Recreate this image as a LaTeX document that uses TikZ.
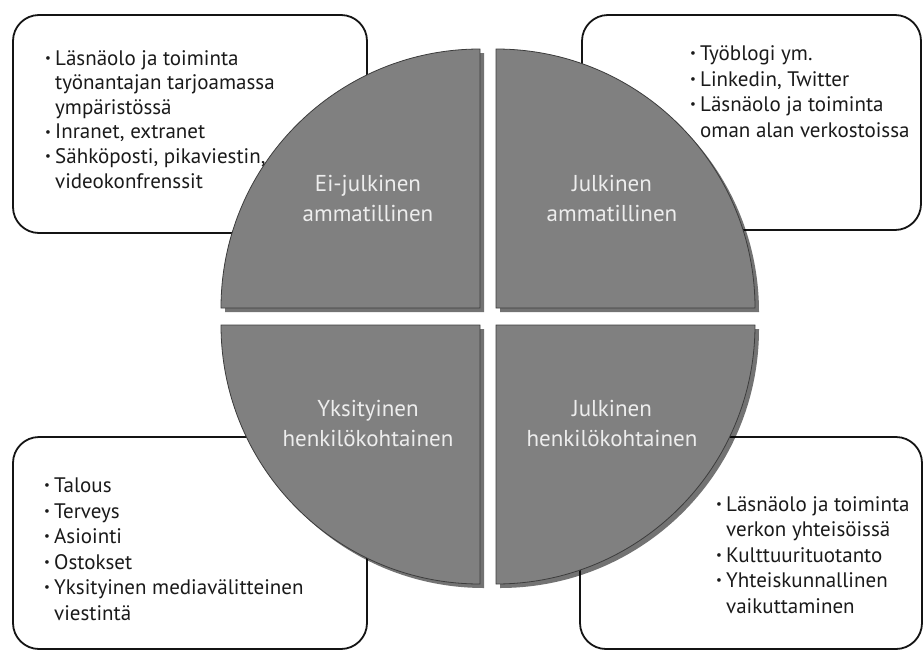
\documentclass[tikz,border=0pt]{standalone}
\usepackage{fontspec}
\setmainfont{PT Sans}
\usetikzlibrary{shadows}
\definecolor{qgray}{HTML}{808080}
\definecolor{qedge}{HTML}{3C3C3C}
\definecolor{qtext}{HTML}{EDEDED}
\definecolor{btext}{HTML}{1A1A1A}
\newcommand{\smallbul}{\makebox[11pt][l]{\hspace{1pt}\raisebox{2.6pt}{\fontsize{13}{13}\selectfont •}}}
\newcommand{\bitem}[1]{\smallbul#1}
\newcommand{\bcont}[1]{\hspace*{11pt}#1}
\begin{document}
\begin{tikzpicture}[x=1pt,y=1pt,
  infobox/.style={draw=black!92, line width=1.8pt, rounded corners=26pt, fill=white},
  quad/.style={fill=qgray, draw=qedge, line width=0.8pt,
    drop shadow={shadow xshift=4pt, shadow yshift=-4pt, fill=black, opacity=0.55}},
  qlabel/.style={text=qtext, font=\fontsize{23}{29.5}\selectfont, align=center, inner sep=0pt, anchor=base},
  blist/.style={text=btext, font=\fontsize{21}{25.5}\selectfont, align=left, inner sep=0pt, anchor=base west}]
\useasboundingbox (0,0) rectangle (924,-651);
% information boxes
\draw[infobox] (13,-15) rectangle (367,-233);
\draw[infobox] (582,-15) rectangle (921,-230);
\draw[infobox] (13,-437) rectangle (367,-649);
\draw[infobox] (580,-437) rectangle (922,-649);
% quadrants
\path[quad] (480,-308) -- (221,-308) arc[start angle=180, end angle=90, radius=259pt] -- cycle;
\path[quad] (496,-308) -- (496,-49) arc[start angle=90, end angle=0, radius=259pt] -- cycle;
\path[quad] (480,-325) -- (480,-584) arc[start angle=270, end angle=180, radius=259pt] -- cycle;
\path[quad] (496,-325) -- (755,-325) arc[start angle=0, end angle=-90, radius=259pt] -- cycle;
% quadrant labels (anchor = baseline of the last line)
\node[qlabel] (qtl) at (368,-221) {Ei-julkinen\\ammatillinen};
\node[qlabel] (qtr) at (612,-221) {Julkinen\\ammatillinen};
\node[qlabel] (qbl) at (368,-446) {Yksityinen\\henkilökohtainen};
\node[qlabel] (qbr) at (612,-446) {Julkinen\\henkilökohtainen};
% box texts (anchor = baseline of the last line)
\node[blist, font=\fontsize{21}{24.6}\selectfont] (ttl) at (44,-188) {\bitem{Läsnäolo ja toiminta}\\\bcont{työnantajan tarjoamassa}\\\bcont{ympäristössä}\\\bitem{Inranet, extranet}\\\bitem{Sähköposti, pikaviestin,}\\\bcont{videokonfrenssit}};
\node[blist] (ttr) at (689,-137) {\bitem{Työblogi ym.}\\\bitem{Linkedin, Twitter}\\\bitem{Läsnäolo ja toiminta}\\\bcont{oman alan verkostoissa}};
\node[blist] (tbl) at (43,-620) {\bitem{Talous}\\\bitem{Terveys}\\\bitem{Asiointi}\\\bitem{Ostokset}\\\bitem{Yksityinen mediavälitteinen}\\\bcont{viestintä}};
\node[blist] (tbr) at (715,-613) {\bitem{Läsnäolo ja toiminta}\\\bcont{verkon yhteisöissä}\\\bitem{Kulttuurituotanto}\\\bitem{Yhteiskunnallinen}\\\bcont{vaikuttaminen}};
\end{tikzpicture}
\end{document}
